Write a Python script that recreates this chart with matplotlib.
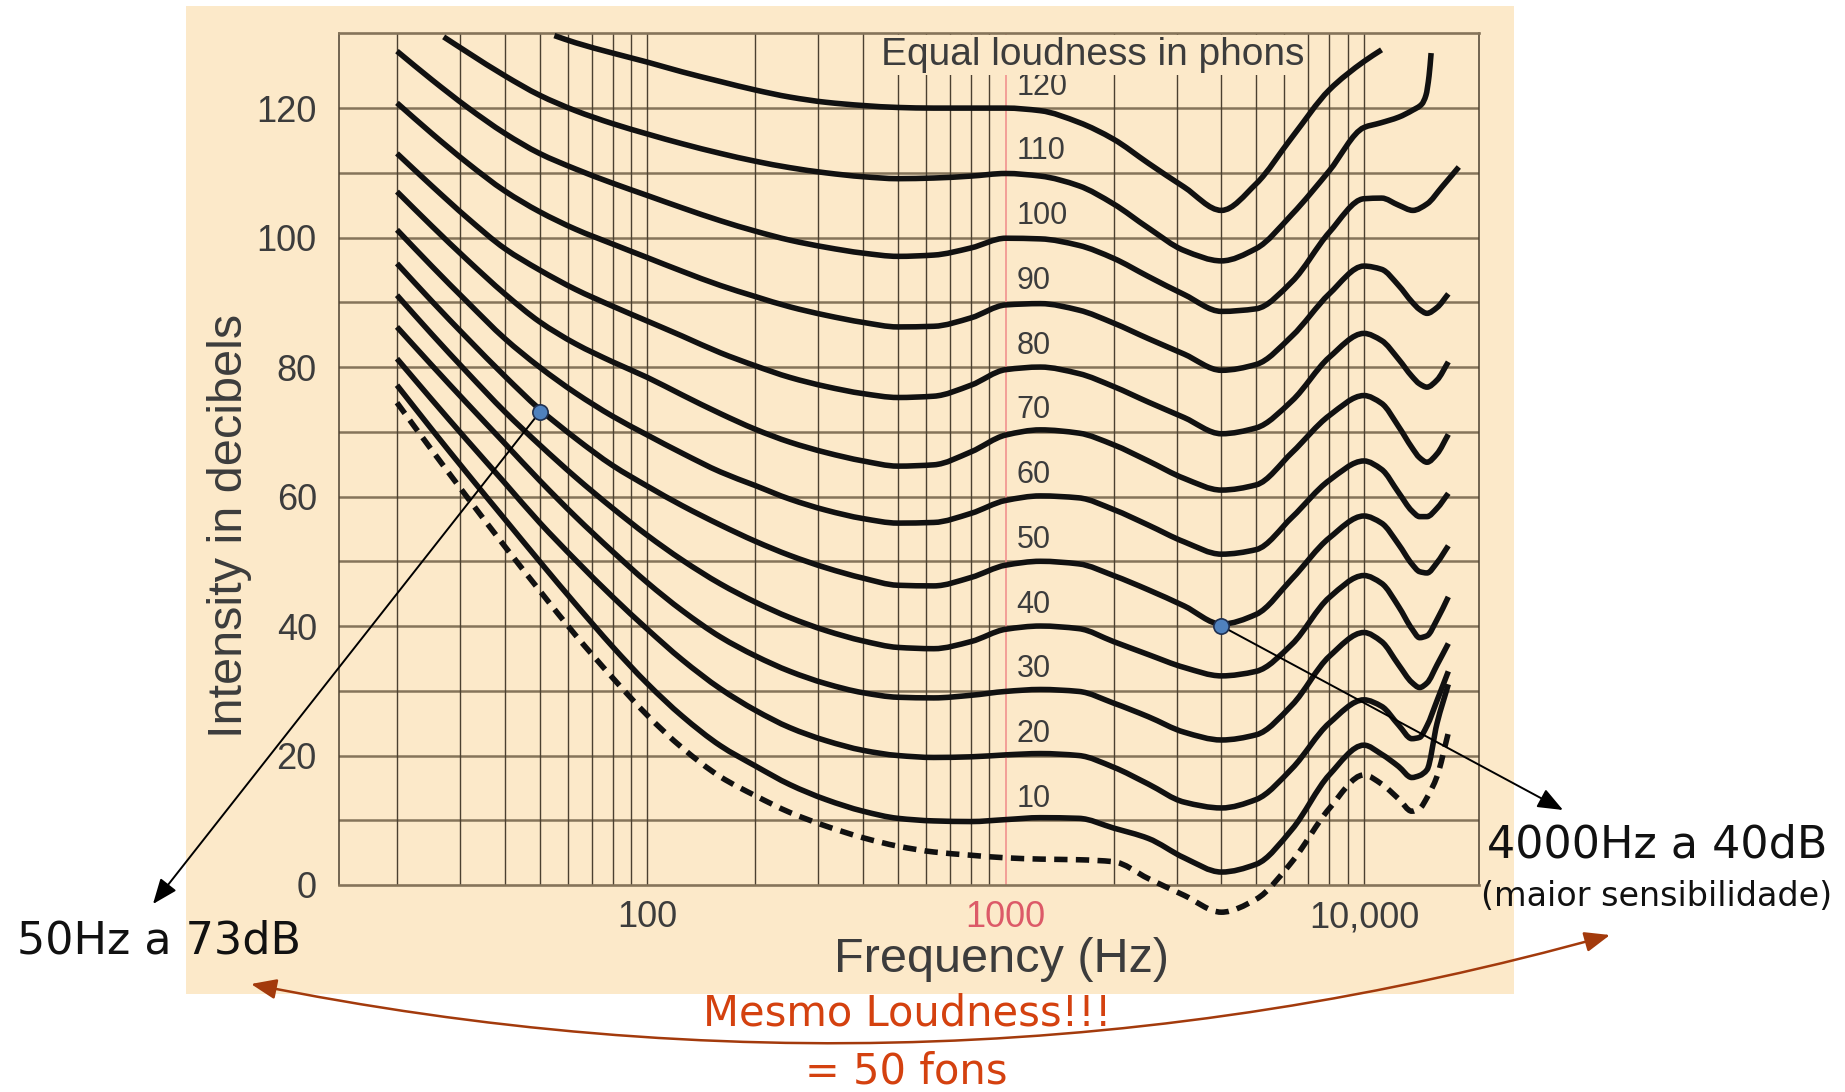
import numpy as np
import matplotlib
matplotlib.use("Agg")
import matplotlib.pyplot as plt
import matplotlib.ticker as mticker
from matplotlib.patches import Rectangle, FancyArrowPatch, PathPatch
from matplotlib.path import Path

plt.rcParams['font.family'] = ['Liberation Sans', 'DejaVu Sans']

# frequencies (Hz) shared by the curve bodies and the high-frequency tails
FREQ = [20, 25, 31.5, 40, 50, 63, 80, 100, 125, 160, 200, 250, 315, 400, 500,
        630, 800, 1000, 1250, 1600, 2000, 2500, 3150, 4000, 5000, 6300, 8000, 10000]
TAIL_F = [11200, 12500, 13600, 14300, 15000, 16000, 17200]

# threshold of hearing (dashed)
threshold = [74.5, 67.2, 59.8, 52.3, 45.5, 38.6, 32, 26.2, 21.2, 16.7, 13.8, 11.2, 9.1, 7.3, 6.0,
             5.1, 4.6, 4.2, 4.0, 3.9, 3.6, 1.0, -1.6, -4.2, -2.2, 3.6, 11.8, 17.0]
threshold_tail = [15.6, 13.3, 11.4, 11.8, 13.5, 16.8, 23.5]

phon10 = [77.2, 70.4, 63.5, 56.5, 50, 43.4, 36.8, 31.1, 26.1, 21.5, 18.4, 15.5, 13.2, 11.4, 10.3,
          9.9, 9.8, 10.1, 10.4, 10.3, 8.8, 7.2, 4.2, 2.0, 3.2, 8.6, 17.0, 21.6]
phon10_tail = [20.2, 18.3, 16.6, 16.9, 17.8, 25, 31]

phon20 = [81.3, 75, 68.6, 62.1, 56, 50.2, 44.5, 39.5, 34.8, 30.3, 27, 24.3, 22.3, 20.8, 20,
          19.7, 19.8, 20.1, 20.3, 20, 18.2, 15.6, 12.8, 11.9, 13.2, 18, 25, 28.6]
phon20_tail = [27.6, 24.7, 22.6, 22.8, 24.6, 28.5, 33]

phon30 = [86.2, 80.3, 74.3, 68.2, 62.5, 56.9, 51.5, 46.7, 42.4, 38.3, 35.4, 33, 31.1, 29.7, 29,
          28.9, 29.3, 29.9, 30.2, 29.9, 28.1, 26, 23.6, 22.4, 23.2, 27.8, 35.3, 39]
phon30_tail = [37.6, 34, 31.3, 30.5, 31.2, 34, 37.3]

phon40 = [91.1, 85.1, 79.1, 73.1, 68, 63, 58.2, 54, 50.2, 46.5, 43.7, 41.3, 39.3, 37.7, 36.7,
          36.5, 37.6, 39.5, 40, 39.6, 37.6, 35.6, 33.6, 32.3, 33, 37.2, 44.4, 47.8]
phon40_tail = [46.6, 43, 39.6, 38.2, 38.5, 41, 44.5]

phon50 = [96, 90.2, 84.4, 78.6, 73.5, 69, 64.8, 61.6, 58.6, 55.6, 53.1, 50.9, 49, 47.4, 46.3,
          46.2, 47.5, 49.4, 50, 49.6, 47.8, 45.6, 43.1, 40.3, 41.8, 47.3, 53.6, 57]
phon50_tail = [55.9, 52.6, 49.6, 48.4, 48.2, 49.8, 52.4]

phon60 = [101.2, 95.6, 90, 84.4, 80, 76, 72.4, 69.5, 66.7, 63.8, 61.7, 59.6, 57.9, 56.6, 55.9,
          56, 57.4, 59.4, 60.1, 59.8, 58, 55.6, 53, 51.1, 51.8, 56.8, 62.5, 65.5]
phon60_tail = [64.2, 60.6, 57.8, 56.9, 56.9, 58.2, 60.5]

phon70 = [107.1, 101.8, 96.5, 91.3, 87, 83.6, 80.8, 78.4, 75.7, 72.8, 70.4, 68.4, 66.8, 65.5, 64.7,
          64.9, 66.9, 69.5, 70.3, 69.8, 68, 65.5, 62.8, 61, 61.8, 66.8, 72.5, 75.6]
phon70_tail = [74.4, 70.8, 67.6, 66, 65.3, 66.6, 69.6]

phon80 = [113, 108, 103, 98.3, 95, 92, 89.4, 87.1, 84.8, 82.2, 80.2, 78.4, 77, 75.9, 75.3,
          75.5, 77.2, 79.6, 80, 79, 77, 74.6, 72.2, 69.7, 70.6, 74.8, 81.5, 85.2]
phon80_tail = [84.1, 81.2, 78.6, 77.4, 76.9, 78, 80.8]

phon90 = [120.8, 116.1, 111.5, 107.2, 104, 101.3, 99, 96.9, 94.8, 92.6, 90.9, 89.3, 88, 86.9, 86.2,
          86.3, 87.6, 89.6, 89.8, 88.8, 86.8, 84.4, 82, 79.5, 80.4, 84.8, 91.3, 95.6]
phon90_tail = [95.1, 92.6, 90.1, 88.9, 88.3, 89.2, 91.3]

phon100 = [128.8, 124.4, 120.1, 116.1, 113, 110.6, 108.4, 106.5, 104.6, 102.6, 101, 99.6, 98.5, 97.6,
           97.1, 97.3, 98.4, 99.9, 99.8, 98.8, 96.8, 94, 91.2, 88.6, 89, 93.2, 100.8, 106]
tail_f_100 = [11200, 12500, 13700, 15000, 16500, 18400]
phon100_tail = [106.1, 105, 104.2, 105.2, 107.8, 110.9]

f_110 = [27, 31.5, 40, 50, 63, 80, 100, 125, 160, 200, 250, 315, 400, 500, 630, 800, 1000,
         1250, 1600, 2000, 2500, 3150, 4000, 5000, 6300, 8000, 10000,
         11100, 12500, 13700, 14500, 14900, 15200, 15400]
phon110 = [131, 128.6, 125, 122, 119.6, 117.6, 116, 114.5, 113, 111.8, 110.8, 110, 109.4, 109.1,
           109.2, 109.5, 109.9, 109.5, 108, 105.2, 101.5, 98, 96.4, 98.3, 103.6, 110.3, 117,
           117.7, 118.6, 119.7, 120.6, 122, 125, 128.5]

f_120 = [55, 63, 80, 100, 125, 160, 200, 250, 315, 400, 500, 630, 800, 1000, 1250, 1600,
         2000, 2500, 3150, 4000, 5000, 6300, 8000, 10000, 11200]
phon120 = [131.2, 130.1, 128.5, 127.1, 125.6, 124.1, 122.8, 121.7, 120.9, 120.4, 120.1, 120, 120, 120,
           119.6, 117.8, 115.2, 111.5, 107.8, 104.2, 108.3, 115.5, 122.8, 127.2, 129]

phon_levels = [10, 20, 30, 40, 50, 60, 70, 80, 90, 100, 110, 120]
label_freq = 1072

grid_freqs = ([20, 30, 40, 50, 60, 70, 80, 90] + list(range(100, 1000, 100))
              + list(range(1000, 10000, 1000)) + [10000])
grid_db = list(range(10, 130, 10))

# the two marked points on the 50 phon curve
dot_f = [50, 4000]
dot_db = [73, 40]

W, H = 1845, 1092
BEIGE = '#fce9c9'
HGRID = '#85745a'
VGRID = '#4b4030'
TXT = '#3c3c3c'


def fxy(px, py):
    return (px / W, 1 - py / H)


def smooth_path(freqs, levels):
    # monotone cubic (pchip-style) Bezier through the points, built in log-frequency space
    x = np.log10(np.asarray(freqs, float))
    y = np.asarray(levels, float)
    h = np.diff(x)
    d = np.diff(y) / h
    m = np.empty_like(y)
    m[0], m[-1] = d[0], d[-1]
    for k in range(1, len(y) - 1):
        if d[k - 1] * d[k] <= 0:
            m[k] = 0.0
        else:
            w1, w2 = 2 * h[k] + h[k - 1], h[k] + 2 * h[k - 1]
            m[k] = (w1 + w2) / (w1 / d[k - 1] + w2 / d[k])
    verts = [(10 ** x[0], y[0])]
    codes = [Path.MOVETO]
    for k in range(len(h)):
        c1 = (10 ** (x[k] + h[k] / 3), y[k] + m[k] * h[k] / 3)
        c2 = (10 ** (x[k + 1] - h[k] / 3), y[k + 1] - m[k + 1] * h[k] / 3)
        verts += [c1, c2, (10 ** x[k + 1], y[k + 1])]
        codes += [Path.CURVE4] * 3
    return Path(verts, codes)


fig = plt.figure(figsize=(W / 100, H / 100), dpi=100, facecolor='white')

panel = Rectangle(fxy(186, 994), (1514 - 186) / W, (994 - 6) / H, transform=fig.transFigure,
                  facecolor=BEIGE, edgecolor='none', zorder=-10)
fig.patches.append(panel)

ax = fig.add_axes([339 / W, 1 - 885 / H, (1479 - 339) / W, (885 - 33) / H])
ax.set_facecolor('none')
ax.set_xscale('log')
ax.set_xlim(13.78, 20950)
ax.set_ylim(0, 131.6)

for d in grid_db:
    ax.axhline(d, color=HGRID, lw=1.8, zorder=1)
for f in grid_freqs:
    if f == 1000:
        ax.axvline(f, color='#f08a8a', lw=1.1, zorder=1.2)
    else:
        ax.axvline(f, color=VGRID, lw=1.0, zorder=1.1)

for side in ['top', 'bottom']:
    ax.spines[side].set_color(HGRID)
    ax.spines[side].set_linewidth(1.9)
for side in ['left', 'right']:
    ax.spines[side].set_color(VGRID)
    ax.spines[side].set_linewidth(1.1)

ax.set_xticks([100, 1000, 10000])
ax.set_xticklabels(['100', '1000', '10,000'])
ax.xaxis.set_minor_locator(mticker.NullLocator())
ax.set_yticks(range(0, 121, 20))
ax.tick_params(axis='both', length=0, labelsize=26, labelcolor=TXT)
ax.tick_params(axis='y', pad=16)
ax.tick_params(axis='x', pad=11)
ax.get_xticklabels()[1].set_color('#dc5a68')

curves = [(FREQ + TAIL_F, body + tail) for body, tail in
          [(phon10, phon10_tail), (phon20, phon20_tail), (phon30, phon30_tail),
           (phon40, phon40_tail), (phon50, phon50_tail), (phon60, phon60_tail),
           (phon70, phon70_tail), (phon80, phon80_tail), (phon90, phon90_tail)]]
curves += [(FREQ + tail_f_100, phon100 + phon100_tail), (f_110, phon110), (f_120, phon120)]

for fr, lv in curves:
    ax.add_patch(PathPatch(smooth_path(fr, lv), fill=False, edgecolor='#111111', lw=4.0,
                           joinstyle='round', capstyle='butt', clip_on=False, zorder=3))
ax.add_patch(PathPatch(smooth_path(FREQ + TAIL_F, threshold + threshold_tail), fill=False,
                       edgecolor='#111111', lw=4.0, linestyle=(0, (2.4, 1.5)),
                       clip_on=False, zorder=3))

for p in phon_levels:
    ax.text(label_freq, p + 3.3, str(p), fontsize=22, color=TXT, ha='left', va='center', zorder=4)

ax.text(1755, 128.2, 'Equal loudness in phons', fontsize=28, color=TXT, ha='center', va='center',
        zorder=4, bbox=dict(facecolor=BEIGE, edgecolor='none', pad=1.5))

fig.text(*fxy(229, 526), 'Intensity in decibels', rotation=90, fontsize=35, color=TXT,
         ha='center', va='center')
fig.text(*fxy(1001, 959), 'Frequency (Hz)', fontsize=35, color=TXT, ha='center', va='center')

# markers and pointer arrows
ax.plot(dot_f, dot_db, 'o', ms=11, mfc='#4f81bd', mec='#1f3050', mew=1.2, clip_on=False, zorder=10)
arrow_kw = dict(arrowstyle='-|>,head_length=0.7,head_width=0.28', color='black', lw=1.4,
                shrinkA=0, shrinkB=0, mutation_scale=22)
ax.annotate('', xy=fxy(153, 904), xycoords='figure fraction', xytext=(dot_f[0], dot_db[0]),
            textcoords='data', arrowprops=arrow_kw, annotation_clip=False, zorder=6)
ax.annotate('', xy=fxy(1563, 810), xycoords='figure fraction', xytext=(dot_f[1], dot_db[1]),
            textcoords='data', arrowprops=arrow_kw, annotation_clip=False, zorder=6)

note_font = 'DejaVu Sans'
fig.text(*fxy(159, 941), '50Hz a 73dB', fontsize=32, family=note_font, color='#111111',
         ha='center', va='center')
fig.text(*fxy(1657, 845), '4000Hz a 40dB', fontsize=32, family=note_font, color='#111111',
         ha='center', va='center')
fig.text(*fxy(1657, 897), '(maior sensibilidade)', fontsize=24, family=note_font, color='#111111',
         ha='center', va='center')

red_arrow = FancyArrowPatch(fxy(1610, 935), fxy(251, 984), transform=fig.transFigure,
                            connectionstyle='arc3,rad=-0.12',
                            arrowstyle='<|-|>,head_length=0.7,head_width=0.28',
                            mutation_scale=22, color='#a33a0c', lw=1.8, shrinkA=0, shrinkB=0)
fig.patches.append(red_arrow)
fig.text(*fxy(907, 1014), 'Mesmo Loudness!!!', fontsize=30, family=note_font, color='#d4410f',
         ha='center', va='center')
fig.text(*fxy(906, 1071), '= 50 fons', fontsize=30, family=note_font, color='#d4410f',
         ha='center', va='center')

fig.savefig('out.png', dpi=100, facecolor='white')
